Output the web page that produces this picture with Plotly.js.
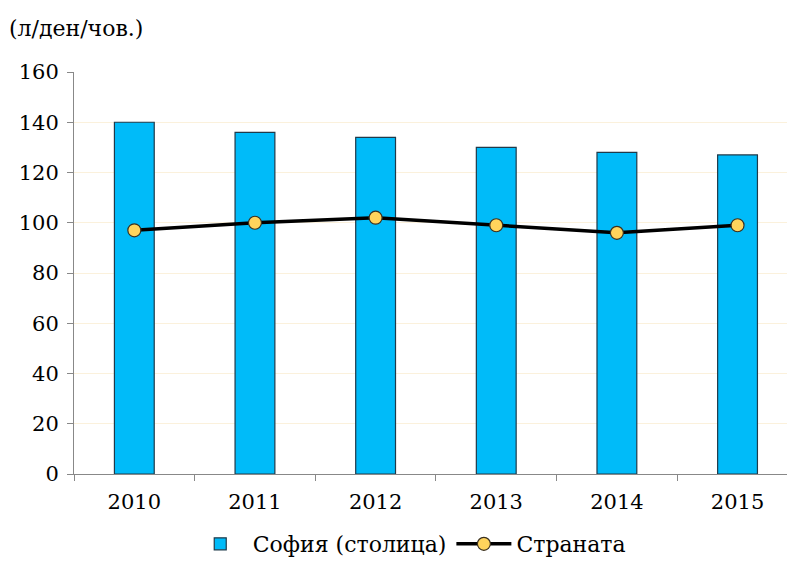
<!DOCTYPE html>
<html>
<head>
<meta charset="utf-8">
<script src="https://cdn.plot.ly/plotly-3.0.1.min.js"></script>
<style>html,body{margin:0;padding:0;background:#fff;}#chart{width:787px;height:565px;}</style>
</head>
<body>
<div id="chart"></div>
<script>
const years = ["2010", "2011", "2012", "2013", "2014", "2015"];
const sofiaValues = [140, 136, 134, 130, 128, 127];
const countryValues = [97, 100, 102, 99, 96, 99];
const seriesNames = ["София (столица)", "Страната"];
const unitLabel = "(л/ден/чов.)";
const yTicks = [0, 20, 40, 60, 80, 100, 120, 140, 160];

const fontFamily = "DejaVu Serif";

const traces = [
  {
    type: "bar",
    x: years,
    y: sofiaValues,
    name: seriesNames[0],
    marker: {color: "#00BBF9", line: {color: "#1F3A4A", width: 1.2}},
    hoverinfo: "x+y"
  },
  {
    type: "scatter",
    mode: "lines+markers",
    x: years,
    y: countryValues,
    name: seriesNames[1],
    line: {color: "#000000", width: 3.5},
    marker: {color: "#FFD45C", size: 13, line: {color: "#3A3020", width: 1.2}}
  }
];

const layout = {
  width: 787,
  height: 565,
  margin: {l: 74, r: 0, t: 72, b: 91},
  paper_bgcolor: "#ffffff",
  plot_bgcolor: "#ffffff",
  font: {family: fontFamily, size: 20, color: "#000"},
  bargap: 0.67,
  showlegend: true,
  legend: {
    orientation: "h",
    x: 0.52, xanchor: "center", xref: "container",
    y: -0.015, yanchor: "bottom", yref: "container",
    font: {family: fontFamily, size: 22, color: "#000"},
    itemwidth: 55,
    traceorder: "normal"
  },
  xaxis: {
    type: "category",
    range: [-0.5, 5.41],
    showline: true, linecolor: "#888888", linewidth: 1,
    ticks: "outside", ticklen: 6, tickcolor: "#888888",
    tickson: "boundaries",
    showgrid: false,
    tickfont: {family: fontFamily, size: 21, color: "#000"},
    ticklabelstandoff: 9,
    fixedrange: true
  },
  yaxis: {
    range: [0, 160],
    tickvals: yTicks,
    showline: true, linecolor: "#888888", linewidth: 1,
    ticks: "outside", ticklen: 6, tickcolor: "#888888",
    showgrid: true, gridcolor: "#FBF1DC", gridwidth: 1,
    zeroline: false,
    tickfont: {family: fontFamily, size: 21, color: "#000"},
    ticklabelstandoff: 4,
    fixedrange: true
  },
  annotations: [
    {
      text: unitLabel,
      xref: "paper", yref: "paper",
      x: -67/713, y: 1 + 44/402,
      xanchor: "left", yanchor: "middle",
      showarrow: false,
      font: {family: fontFamily, size: 22, color: "#000"}
    }
  ]
};

Plotly.newPlot("chart", traces, layout, {displayModeBar: false, staticPlot: true});
</script>
</body>
</html>
